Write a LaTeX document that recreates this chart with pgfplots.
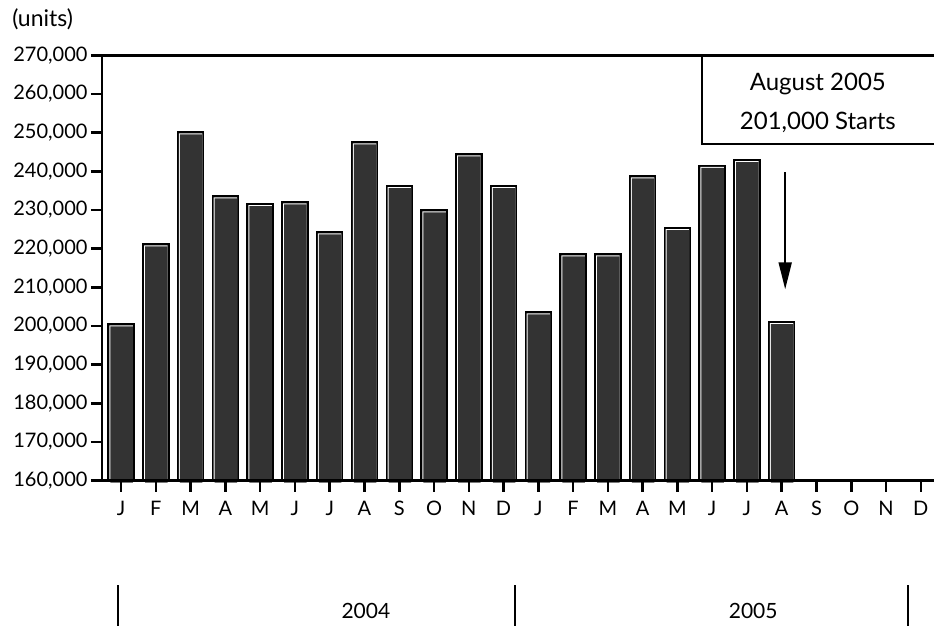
\documentclass[border=0pt]{standalone}
\usepackage{fontspec}
\setmainfont{Lato}
\usepackage{pgfplots}
\usepackage{pgfplotstable}
\pgfplotsset{compat=1.18}
\usetikzlibrary{arrows.meta}
\definecolor{barfill}{HTML}{333333}

% housing starts, index 0 = Jan 2004
\pgfplotstableread{
idx starts
0  200400
1  221100
2  250100
3  233500
4  231500
5  232000
6  224200
7  247500
8  236200
9  229900
10 244400
11 236200
12 203500
13 218500
14 218500
15 238700
16 225300
17 241400
18 242900
19 201000
}\starts

\begin{document}
\begin{tikzpicture}
% 1pt here = 1px of the reference
\useasboundingbox (-102pt,-145.3pt) rectangle (832pt,480.7pt);
\begin{axis}[
  at={(0,0)}, anchor=south west,
  scale only axis, width=832pt, height=425.4pt,
  xmin=-0.55, xmax=23.38,
  ymin=160000, ymax=270000,
  axis on top,
  axis x line*=box, axis y line*=left,
  axis line style={line width=2.8pt},
  tick align=outside, major tick length=11pt,
  tick style={line width=2.5pt, black},
  xtick={0,...,23}, xtick pos=left,
  xticklabels={J,F,M,A,M,J,J,A,S,O,N,D,J,F,M,A,M,J,J,A,S,O,N,D},
  xticklabel style={font=\fontsize{20}{24}\selectfont, yshift=-6pt},
  ytick={160000,170000,...,270000},
  scaled y ticks=false,
  yticklabel style={font=\fontsize{20}{24}\selectfont,
    /pgf/number format/.cd, fixed, 1000 sep={,}, assume math mode=true},
  clip=false,
  ybar, bar shift=0pt,
]
% outline, highlight, body
\addplot[bar width=25.5pt, fill=black, draw=black, line width=2pt] table[x=idx, y=starts] {\starts};
\addplot[bar width=23.5pt, fill=white, draw=none, yshift=-1pt] table[x=idx, y=starts] {\starts};
\addplot[bar width=22.5pt, bar shift=0.5pt, fill=barfill, draw=none, yshift=-2pt] table[x=idx, y=starts] {\starts};

% callout
\draw[line width=2.5pt] (axis cs:16.70,270000) |- (axis cs:23.38,247070);
\node[align=center, font=\fontsize{24}{39}\selectfont] at (axis cs:20.04,257800)
  {August 2005\\201,000 Starts};
\draw[line width=2pt, -{Triangle[width=13pt,length=27pt]}]
  (axis cs:19.1,239750) -- (axis cs:19.1,209500);

% unit label
\node[anchor=west, inner sep=0pt, font=\fontsize{23}{26}\selectfont] at (axis cs:-3.135,279400) {(units)};

% year row
\draw[line width=2pt] (axis cs:-0.08,133030) -- (axis cs:-0.08,122400);
\draw[line width=2pt] (axis cs:11.33,133030) -- (axis cs:11.33,122400);
\draw[line width=2pt] (axis cs:22.62,133030) -- (axis cs:22.62,122400);
\node[font=\fontsize{21}{24}\selectfont] at (axis cs:7.04,126200) {2004};
\node[font=\fontsize{21}{24}\selectfont] at (axis cs:18.18,126200) {2005};
\end{axis}
\end{tikzpicture}
\end{document}
